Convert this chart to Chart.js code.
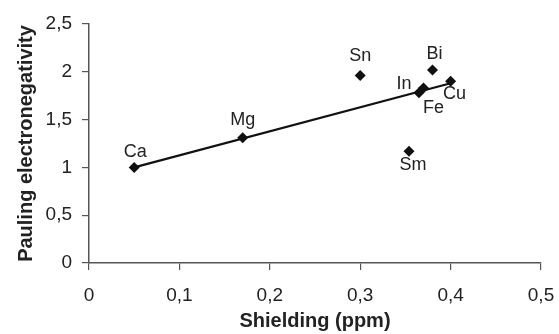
<!DOCTYPE html>
<html>
<head>
<meta charset="utf-8">
<script src="https://cdn.jsdelivr.net/npm/chart.js@4"></script>
<style>
  html, body { margin: 0; padding: 0; background: #fff; }
  #wrap { width: 559px; height: 334px; position: relative; }
</style>
</head>
<body>
<div id="wrap"><canvas id="c"></canvas></div>
<script>
// Elements: shielding (ppm) vs Pauling electronegativity.
const elements = ["Ca", "Mg", "Sn", "Bi", "In", "Fe", "Cu", "Sm"];
const shielding = [0.05, 0.17, 0.30, 0.38, 0.365, 0.37, 0.40, 0.354];
const electroneg = [1.00, 1.31, 1.96, 2.02, 1.78, 1.83, 1.90, 1.17];

// Trend line endpoints (fit through Ca..Cu)
const trendX = [0.05, 0.40];
const trendY = [1.00, 1.88];

const xTicks = [0, 0.1, 0.2, 0.3, 0.4, 0.5];
const yTicks = [0, 0.5, 1, 1.5, 2, 2.5];

// where each label sits relative to its marker (px)
const labelShift = {
  Ca: [1, -15], Mg: [0, -18], Sn: [0, -20], Bi: [2, -16],
  In: [-15, -9], Fe: [10, 20], Cu: [4, 13], Sm: [4, 14],
};

const FONT = "'Liberation Sans', Arial, sans-serif";
const comma = (v) => String(v).replace(".", ",");

const pointLabels = {
  id: "pointLabels",
  afterDatasetsDraw(chart) {
    const meta = chart.getDatasetMeta(1);
    const ctx = chart.ctx;
    ctx.save();
    ctx.font = "18px " + FONT;
    ctx.fillStyle = "#222";
    ctx.textAlign = "center";
    ctx.textBaseline = "middle";
    meta.data.forEach((pt, i) => {
      const s = labelShift[elements[i]] || [0, -16];
      ctx.fillText(elements[i], pt.x + s[0], pt.y + s[1]);
    });
    ctx.restore();
  },
};

const border = { display: true, color: "#555", width: 1.5 };

new Chart(document.getElementById("c"), {
  type: "scatter",
  data: {
    datasets: [
      {
        type: "line",
        data: trendX.map((x, i) => ({ x, y: trendY[i] })),
        borderColor: "#111",
        borderWidth: 2.2,
        pointRadius: 0,
        fill: false,
      },
      {
        data: shielding.map((x, i) => ({ x, y: electroneg[i] })),
        pointStyle: "rectRot",
        pointRadius: 5.5,
        backgroundColor: "#111",
        borderColor: "#111",
        borderWidth: 0,
      },
    ],
  },
  options: {
    responsive: true,
    maintainAspectRatio: false,
    animation: false,
    layout: { padding: { top: 24, right: 18, left: 0, bottom: 0 } },
    plugins: { legend: { display: false }, tooltip: { enabled: false } },
    scales: {
      x: {
        type: "linear",
        min: 0, max: 0.5,
        border,
        grid: { drawOnChartArea: false, drawTicks: true, tickLength: 7, color: "#555", lineWidth: 1.2 },
        afterBuildTicks: (ax) => { ax.ticks = xTicks.map((v) => ({ value: v })); },
        afterFit: (ax) => { ax.height = 71; ax.paddingLeft = 0; ax.paddingRight = 0; },
        ticks: { color: "#222", font: { family: FONT, size: 19 }, padding: 14, callback: comma, maxRotation: 0 },
        title: { display: true, text: "Shielding (ppm)", color: "#222", font: { family: FONT, size: 20, weight: "bold" }, padding: { top: 0, bottom: 1 } },
      },
      y: {
        type: "linear",
        min: 0, max: 2.5,
        border,
        grid: { drawOnChartArea: false, drawTicks: true, tickLength: 7, color: "#555", lineWidth: 1.2 },
        afterBuildTicks: (ax) => { ax.ticks = yTicks.map((v) => ({ value: v })); },
        afterFit: (ax) => { ax.width = 89; },
        ticks: { color: "#222", font: { family: FONT, size: 19 }, padding: 10, callback: comma },
        title: { display: true, text: "Pauling electronegativity", color: "#222", font: { family: FONT, size: 20, weight: "bold" }, padding: { top: 14, bottom: 0 } },
      },
    },
  },
  plugins: [pointLabels],
});
</script>
</body>
</html>
